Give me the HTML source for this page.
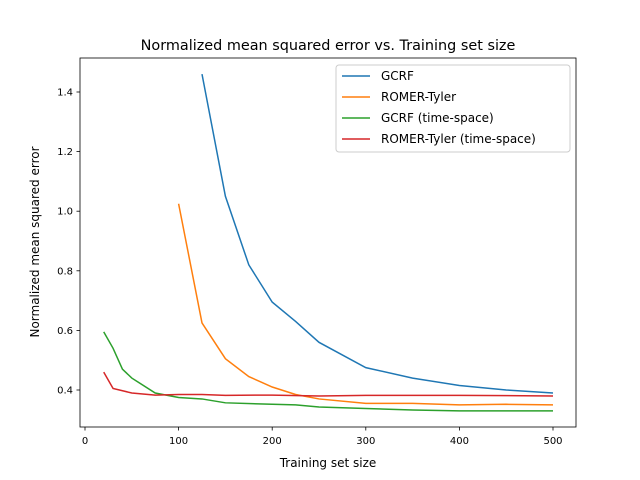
<!DOCTYPE html>
<html><head><meta charset="utf-8"><style>
body{margin:0;background:#fff;}
svg{display:block;font-family:"DejaVu Sans","Liberation Sans",sans-serif;}
</style></head><body>
<svg id="chart" width="640" height="480" viewBox="0 0 640 480">
<rect width="640" height="480" fill="#fff"/>
<text x="328" y="50" text-anchor="middle" font-size="14.4">Normalized mean squared error vs. Training set size</text>
<g id="plot"></g>
<rect x="80" y="58" width="496" height="369" fill="none" stroke="#000" stroke-width="0.8"/>
<text x="328" y="467" text-anchor="middle" font-size="12">Training set size</text>
<text transform="translate(39,242) rotate(-90)" text-anchor="middle" font-size="12">Normalized mean squared error</text>
</svg>
<script>
const seriesNames=["GCRF","ROMER-Tyler","GCRF (time-space)","ROMER-Tyler (time-space)"];
const colors=["#1f77b4","#ff7f0e","#2ca02c","#d62728"];
const gcrfX=[125,150,175,200,225,250,300,350,400,450,500];
const gcrfY=[1.46,1.05,0.82,0.695,0.63,0.56,0.475,0.44,0.415,0.40,0.39];
const romerX=[100,125,150,175,200,225,250,300,350,400,450,500];
const romerY=[1.025,0.625,0.505,0.445,0.41,0.385,0.37,0.355,0.355,0.35,0.352,0.35];
const gcrfTsX=[20,30,40,50,75,100,125,150,200,225,250,300,350,400,450,500];
const gcrfTsY=[0.595,0.54,0.47,0.44,0.39,0.375,0.37,0.357,0.352,0.35,0.343,0.338,0.333,0.33,0.33,0.33];
const romerTsX=[20,30,50,75,100,125,150,200,250,300,400,500];
const romerTsY=[0.46,0.405,0.39,0.383,0.385,0.385,0.382,0.383,0.38,0.382,0.382,0.38];
const xTicks=[0,100,200,300,400,500];
const yTicks=[0.4,0.6,0.8,1.0,1.2,1.4];
const NS="http://www.w3.org/2000/svg";
const xs=v=>85+(v-0)*0.936;
const ys=v=>390-(v-0.4)*298;
const g=document.getElementById('plot');
function mk(t,a){const e=document.createElementNS(NS,t);for(const k in a)e.setAttribute(k,a[k]);g.appendChild(e);return e;}
xTicks.forEach(t=>{
  const l=mk('line',{x1:xs(t),x2:xs(t),y1:427,y2:430.5,stroke:'#000','stroke-width':0.8});
  
  
  const tx=mk('text',{x:xs(t),y:444,'text-anchor':'middle','font-size':10});
  tx.textContent=t;
  
  
});
yTicks.forEach(t=>{
  const l=mk('line',{x1:76.5,x2:80,y1:ys(t),y2:ys(t),stroke:'#000','stroke-width':0.8});
  
  
  const tx=mk('text',{x:73,y:ys(t)+3.5,'text-anchor':'end','font-size':10});
  tx.textContent=t.toFixed(1);
  
  
});
const data=[[gcrfX,gcrfY],[romerX,romerY],[gcrfTsX,gcrfTsY],[romerTsX,romerTsY]];
data.forEach((d,i)=>{
  const pts=d[0].map((x,j)=>xs(x)+','+ys(d[1][j])).join(' ');
  const p=mk('polyline',{points:pts,fill:'none',stroke:colors[i],'stroke-width':1.5});
  
  
});
const lg=mk('rect',{x:336,y:65,width:234,height:87,fill:'#fff',stroke:'#ccc',rx:3});


seriesNames.forEach((n,i)=>{
  const y=76+i*21;
  const l=mk('line',{x1:342,x2:370,y1:y,y2:y,stroke:colors[i],'stroke-width':1.5});
  
  
  const t=mk('text',{x:381,y:y+4,'font-size':12});
  t.textContent=n;
  
  
});
</script>
</body></html>
